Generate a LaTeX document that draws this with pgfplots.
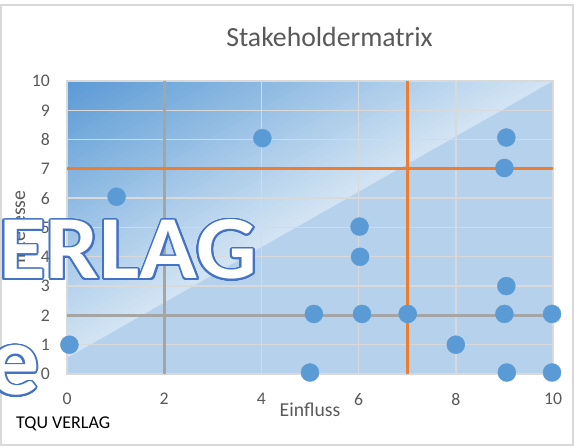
\documentclass[border=0pt]{standalone}
\usepackage{pgfplots}
\pgfplotsset{compat=1.18}
\usetikzlibrary{calc}
\usepackage{fontspec}
\setmainfont{Carlito}
\definecolor{ptc}{HTML}{5B9BD5}
\definecolor{bgdark}{HTML}{5A9AD5}
\definecolor{bglight}{HTML}{D4E5F4}
\definecolor{bglow}{HTML}{B5D1EB}
\definecolor{gridc}{HTML}{D9D9D9}
\definecolor{labc}{HTML}{595959}
\definecolor{orangec}{HTML}{ED7D31}
\definecolor{grayc}{HTML}{A5A5A5}
\definecolor{wmblue}{HTML}{4472C4}
\begin{document}
\begin{tikzpicture}[x=1pt,y=1pt]
\useasboundingbox (0,0) rectangle (574,446);
\fill[white] (0,0) rectangle (574,446);
\draw[gridc, line width=1.2pt] (1,1) rectangle (573,441);
% plot area background
\fill[bglow] (67,72) rectangle (553,365);
\begin{scope}
\clip (67,88) -- (67,365) -- (553,365) -- cycle;
\foreach \i in {0,...,39}{
  \pgfmathsetmacro{\va}{\i/40}
  \pgfmathsetmacro{\vb}{(\i+1.3)/40}
  \pgfmathsetmacro{\p}{100*(\i+0.5)/40}
  \fill[bgdark!\p!bglight] (67,88+277*\va) -- (553,365+277*\va) -- (553,365+277*\vb) -- (67,88+277*\vb) -- cycle;
}
\end{scope}
\begin{axis}[
  at={(67pt,72pt)}, anchor=south west,
  scale only axis, width=486pt, height=293pt,
  xmin=0, xmax=10, ymin=0, ymax=10,
  xtick={0,2,4,6,8,10}, ytick={0,1,...,10},
  grid=major,
  major grid style={draw=gridc, line width=1.4pt},
  axis line style={draw=gridc, line width=1.4pt},
  major tick length=0pt,
  /pgf/number format/assume math mode=true,
  ticklabel style={font=\fontsize{17.7}{20}\selectfont, text=labc},
  xticklabel style={inner sep=0pt, anchor=north, yshift=-19pt},
  yticklabel style={inner sep=0pt, anchor=east, xshift=-17pt},
]
\addplot[only marks, color=ptc, mark=*, mark size=9pt, mark options={solid, fill=ptc, draw=ptc}] coordinates {
  (0.05,1.0) (1.02,6.05) (4.02,8.05) (9.04,8.07) (9.0,7.03)
  (6.02,5.03) (6.03,4.0) (5.08,2.05) (6.07,2.05) (7.01,2.05)
  (9.04,3.0) (9.0,2.05) (9.98,2.05) (8.0,1.0) (5.0,0.05)
  (9.05,0.05) (9.98,0.05)
};
\addplot[grayc, line width=3pt] coordinates {(2,0) (2,10)};
\addplot[grayc, line width=3pt] coordinates {(0,2) (10,2)};
\addplot[orangec, line width=3pt] coordinates {(7,0) (7,10)};
\addplot[orangec, line width=3pt] coordinates {(0,7) (10,7)};
\end{axis}
% labels
\node[anchor=base, inner sep=0pt, text=labc, font=\fontsize{27.7}{30}\selectfont] at (329.5,399) {Stakeholdermatrix};
\node[anchor=base, inner sep=0pt, text=labc, font=\fontsize{19.7}{22}\selectfont] at (310,29) {Einfluss};
\node[anchor=base, rotate=90, inner sep=0pt, text=labc, font=\fontsize{19.7}{22}\selectfont] at (25,219) {Interesse};
% watermark
\foreach \a in {0,15,...,345}{
  \node[anchor=base west, inner sep=0pt, xscale=1.06, text=wmblue, font=\fontsize{90}{95}\selectfont\bfseries] at ($(-1,167)+(\a:1.8)$) {ERLAG};
  \node[anchor=base west, inner sep=0pt, text=wmblue, font=\fontsize{100}{105}\selectfont\bfseries] at ($(-11,51)+(\a:1.8)$) {e};
}
\node[anchor=base west, inner sep=0pt, xscale=1.06, text=white, font=\fontsize{90}{95}\selectfont\bfseries] at (-1,167) {ERLAG};
\node[anchor=base west, inner sep=0pt, text=white, font=\fontsize{100}{105}\selectfont\bfseries] at (-11,51) {e};
\node[anchor=base west, inner sep=0pt, text=black, font=\fontsize{18}{20}\selectfont] at (16,17) {TQU VERLAG};
\end{tikzpicture}
\end{document}
